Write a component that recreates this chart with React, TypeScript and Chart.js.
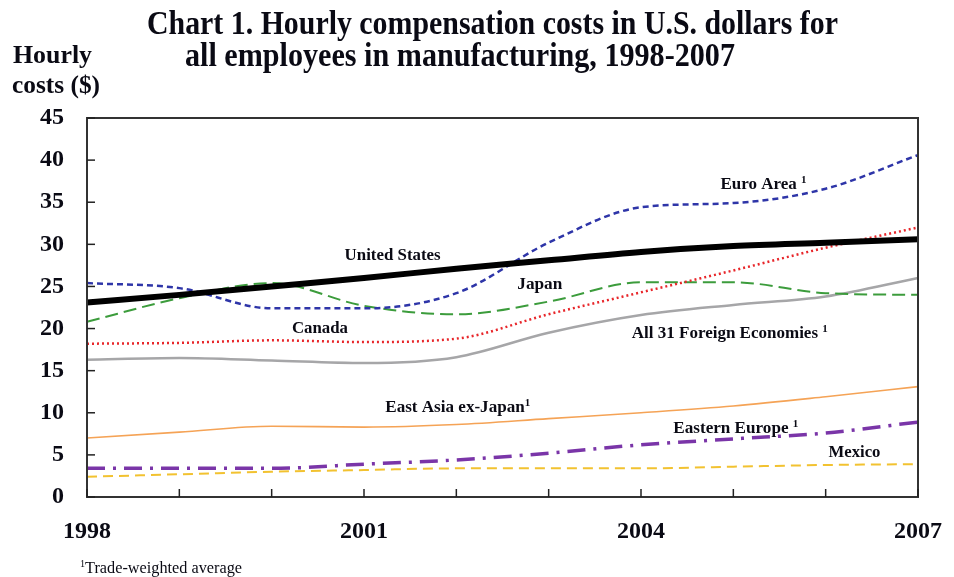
import React, { useEffect, useRef } from "react";
import { Chart, registerables } from "chart.js";

Chart.register(...registerables);

const years = ["1998", "1999", "2000", "2001", "2002", "2003", "2004", "2005", "2006", "2007"];
const unitedStates = [23.1, 24.0, 25.0, 26.0, 27.1, 28.1, 29.1, 29.8, 30.2, 30.6];
const euroArea = [25.4, 24.8, 22.4, 22.4, 24.2, 30.2, 34.4, 34.9, 36.6, 40.6];
const japan = [20.8, 23.6, 25.4, 22.7, 21.7, 23.2, 25.5, 25.5, 24.2, 24.0];
const canada = [18.2, 18.3, 18.6, 18.4, 18.8, 21.7, 24.3, 26.9, 29.6, 32.0];
const all31 = [16.3, 16.5, 16.2, 15.9, 16.6, 19.5, 21.6, 22.8, 23.8, 26.0];
const eastAsia = [7.0, 7.7, 8.4, 8.3, 8.6, 9.3, 10.0, 10.8, 11.9, 13.1];
const easternEurope = [3.4, 3.4, 3.4, 3.9, 4.4, 5.2, 6.2, 6.9, 7.6, 8.9];
const mexico = [2.4, 2.7, 3.0, 3.2, 3.4, 3.4, 3.4, 3.6, 3.8, 3.9];
const yTicks = [0, 5, 10, 15, 20, 25, 30, 35, 40, 45];
const labelledYears = ["1998", "2001", "2004", "2007"];

const title1 = "Chart 1. Hourly compensation costs in U.S. dollars for";
const title2 = "all employees in manufacturing, 1998-2007";
const yTitle1 = "Hourly";
const yTitle2 = "costs ($)";
const footnote = "Trade-weighted average";

// series label, superscript, anchor (fractional year index, value of baseline), target width
const seriesLabels: { text: string; sup: string; xi: number; v: number; w: number }[] = [
  { text: "Euro Area ", sup: "1", xi: 6.86, v: 36.58, w: 86 },
  { text: "United States", sup: "", xi: 2.79, v: 28.15, w: 96 },
  { text: "Japan", sup: "", xi: 4.66, v: 24.7, w: 45 },
  { text: "Canada", sup: "", xi: 2.22, v: 19.48, w: 56 },
  { text: "All 31 Foreign Economies ", sup: "1", xi: 5.9, v: 18.88, w: 196 },
  { text: "East Asia ex-Japan", sup: "1", xi: 3.23, v: 10.1, w: 145 },
  { text: "Eastern Europe ", sup: "1", xi: 6.35, v: 7.6, w: 125 },
  { text: "Mexico", sup: "", xi: 8.03, v: 4.75, w: 52 },
];

const SERIF = "'Liberation Serif', 'Times New Roman', serif";

type Part = { t: string; font: string; dy: number };

function drawFit(ctx: CanvasRenderingContext2D, parts: Part[], x: number, baseline: number, width: number) {
  let total = 0;
  for (const p of parts) {
    ctx.font = p.font;
    total += ctx.measureText(p.t).width;
  }
  const s = width / total;
  ctx.save();
  ctx.translate(x, baseline);
  ctx.scale(s, 1);
  ctx.textAlign = "left";
  ctx.textBaseline = "alphabetic";
  let cx = 0;
  for (const p of parts) {
    ctx.font = p.font;
    ctx.fillText(p.t, cx, p.dy);
    cx += ctx.measureText(p.t).width;
  }
  ctx.restore();
}

const decorPlugin = {
  id: "decor",
  afterDatasetsDraw(chart: any) {
    const ctx: CanvasRenderingContext2D = chart.ctx;
    const area = chart.chartArea;
    const xs = chart.scales.x;
    const ys = chart.scales.y;
    ctx.save();
    // frame
    ctx.strokeStyle = "#333";
    ctx.lineWidth = 2;
    ctx.strokeRect(area.left, area.top, area.right - area.left, area.bottom - area.top);
    // inward tick marks
    ctx.lineWidth = 1.5;
    ctx.strokeStyle = "#222";
    for (const v of yTicks) {
      const py = ys.getPixelForValue(v);
      ctx.beginPath();
      ctx.moveTo(area.left, py);
      ctx.lineTo(area.left + 8, py);
      ctx.stroke();
    }
    for (let i = 0; i < years.length; i++) {
      const px = xs.getPixelForValue(i);
      ctx.beginPath();
      ctx.moveTo(px, area.bottom);
      ctx.lineTo(px, area.bottom - 8);
      ctx.stroke();
    }
    ctx.fillStyle = "#0a0a14";
    // series labels
    for (const l of seriesLabels) {
      const px = xs.getPixelForValue(0) + (xs.getPixelForValue(1) - xs.getPixelForValue(0)) * l.xi;
      const py = ys.getPixelForValue(l.v);
      const parts: Part[] = [{ t: l.text, font: `bold 17px ${SERIF}`, dy: 0 }];
      if (l.sup) parts.push({ t: l.sup, font: `bold 11px ${SERIF}`, dy: -6 });
      drawFit(ctx, parts, px, py, l.w);
    }
    // title
    drawFit(ctx, [{ t: title1, font: `bold 33px ${SERIF}`, dy: 0 }], 147, 34, 691);
    drawFit(ctx, [{ t: title2, font: `bold 33px ${SERIF}`, dy: 0 }], 185, 66, 550);
    // y-axis title
    drawFit(ctx, [{ t: yTitle1, font: `bold 25px ${SERIF}`, dy: 0 }], 13, 63, 79);
    drawFit(ctx, [{ t: yTitle2, font: `bold 25px ${SERIF}`, dy: 0 }], 12, 93, 88);
    // footnote
    drawFit(
      ctx,
      [
        { t: "1", font: `10px ${SERIF}`, dy: -6 },
        { t: footnote, font: `16px ${SERIF}`, dy: 0 },
      ],
      80,
      573,
      162
    );
    ctx.restore();
  },
};

export default function App() {
  const ref = useRef<HTMLCanvasElement | null>(null);
  useEffect(() => {
    if (!ref.current) return;
    const mk = (label: string, data: number[], color: string, width: number, dash: number[]) => ({
      label,
      data,
      borderColor: color,
      backgroundColor: color,
      borderWidth: width,
      borderDash: dash,
      pointRadius: 0,
      fill: false,
      cubicInterpolationMode: "monotone" as const,
    });
    const chart = new Chart(ref.current, {
      type: "line",
      data: {
        labels: years,
        datasets: [
          mk("United States", unitedStates, "#000000", 6, []),
          mk("Euro Area", euroArea, "#2e35a8", 2.5, [6, 4]),
          mk("Canada", canada, "#e8262a", 2.5, [2, 3]),
          mk("Japan", japan, "#3c9c3c", 2, [13, 6]),
          mk("All 31 Foreign Economies", all31, "#a6a6a8", 2.5, []),
          mk("East Asia ex-Japan", eastAsia, "#f5a356", 1.6, []),
          mk("Eastern Europe", easternEurope, "#7a35a8", 3.5, [18, 8, 3, 8]),
          mk("Mexico", mexico, "#f2c230", 2, [10, 6]),
        ],
      },
      options: {
        responsive: false,
        animation: false,
        layout: { padding: { top: 118, right: 36, left: 0, bottom: 0 } },
        plugins: { legend: { display: false }, tooltip: { enabled: false }, title: { display: false } },
        scales: {
          x: {
            type: "category",
            offset: false,
            grid: {
              display: true,
              drawOnChartArea: false,
              drawTicks: true,
              tickLength: 20,
              color: "rgba(0,0,0,0)",
            },
            border: { display: false },
            ticks: {
              autoSkip: false,
              maxRotation: 0,
              padding: 0,
              color: "#0a0a14",
              font: { family: SERIF, size: 24, weight: "bold" },
              callback: (_v: any, i: number) => (labelledYears.includes(years[i]) ? years[i] : ""),
            },
            afterFit: (s: any) => {
              s.height = 80;
            },
          },
          y: {
            min: 0,
            max: 45,
            grid: { display: false, drawTicks: false },
            border: { display: false },
            ticks: {
              stepSize: 5,
              padding: 23,
              color: "#0a0a14",
              font: { family: SERIF, size: 24, weight: "bold" },
            },
            afterFit: (s: any) => {
              s.width = 87;
            },
          },
        },
      },
      plugins: [decorPlugin],
    });
    return () => chart.destroy();
  }, []);
  return (
    <div style={{ position: "fixed", left: 0, top: 0, width: 954, height: 577, background: "#fff" }}>
      <canvas ref={ref} width={954} height={577} style={{ display: "block" }} />
    </div>
  );
}
